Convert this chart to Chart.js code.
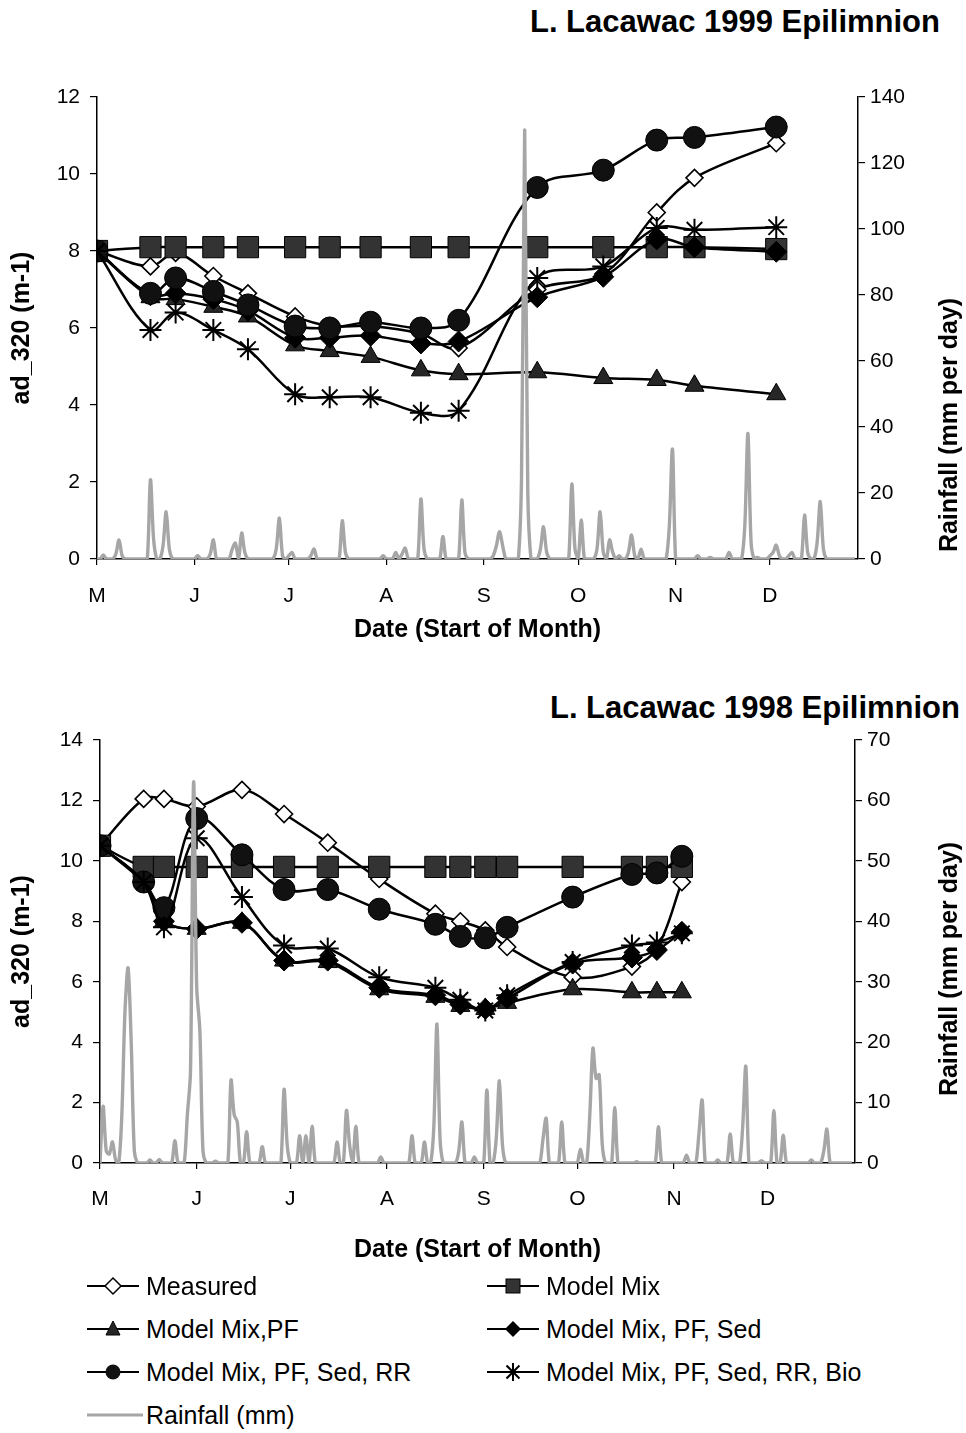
<!DOCTYPE html>
<html>
<head>
<meta charset="utf-8">
<script src="https://cdn.jsdelivr.net/npm/chart.js@4.4.1/dist/chart.umd.min.js"></script>
<style>
  html, body { margin:0; padding:0; background:#fff; }
  #page { position:relative; width:966px; height:1433px; background:#fff; font-family:"Liberation Sans", Arial, sans-serif; color:#000; overflow:hidden; }
  .ctitle { position:absolute; font-weight:bold; font-size:31px; white-space:nowrap; line-height:36px; }
  .cwrap { position:absolute; left:0; width:966px; }
  .leg { position:absolute; display:flex; align-items:center; font-size:25px; white-space:nowrap; }
  .leg svg { margin-right:3px; }
</style>
</head>
<body>
<div id="page">
  <div class="ctitle" style="right:26px; top:4px;">L. Lacawac 1999 Epilimnion</div>
  <div class="cwrap" style="top:0; height:660px;"><canvas id="c1" width="966" height="660"></canvas></div>
  <div class="ctitle" style="right:6px; top:690px;">L. Lacawac 1998 Epilimnion</div>
  <div class="cwrap" style="top:660px; height:612px;"><canvas id="c2" width="966" height="612"></canvas></div>
  <div id="legend"></div>
</div>
<script>
// ---------- DATA ----------
const monthStarts = [0, 31, 61, 92, 123, 153, 184, 214];   // days after May 1
const monthLabels = ["M", "J", "J", "A", "S", "O", "N", "D"];

// 1999 sampling days (days after May 1) and ad_320 values (m-1)
const days1999 = [0, 17, 25, 37, 48, 63, 74, 87, 103, 115, 140, 161, 178, 190, 216];
const measured1999 = [8.0, 7.6, 7.95, 7.35, 6.9, 6.3, 6.05, 6.05, 5.85, 5.48, 7.0, 7.4, 9.0, 9.9, 10.8];
const mix1999 = [8.0, 8.1, 8.1, 8.1, 8.1, 8.1, 8.1, 8.1, 8.1, 8.1, 8.1, 8.1, 8.1, 8.1, 8.05];
const mixPF1999 = [8.0, 6.8, 6.75, 6.55, 6.3, 5.55, 5.4, 5.25, 4.9, 4.8, 4.85, 4.7, 4.65, 4.5, 4.28];
const mixPFSed1999 = [8.0, 6.85, 6.9, 6.75, 6.45, 5.75, 5.75, 5.8, 5.6, 5.65, 6.8, 7.33, 8.3, 8.1, 7.98];
const mixPFSedRR1999 = [8.0, 6.9, 7.3, 6.95, 6.6, 6.05, 6.0, 6.15, 6.0, 6.2, 9.65, 10.1, 10.88, 10.95, 11.22];
const mixPFSedRRBio1999 = [8.0, 5.95, 6.4, 5.95, 5.45, 4.28, 4.2, 4.2, 3.8, 3.85, 7.3, 7.6, 8.6, 8.55, 8.62];
// daily rainfall 1999 (mm per day), day 0 = May 1
const rain1999 = [
  0,0,1.2,0,0,0,1.5,5.8,1,0,
  0,0,0,0,0,0,0,24,6,0,
  0,4,14.3,3,0,0,0,0,0,0,
  0,0,1,0,0,0,1.5,5.8,0,0,
  0,0,0,3,4.8,0,7.9,2,0,0,
  0,0,0,0,0,0,0,3,12.4,1,
  0,1,2,0,0,0,0,0,1,3,
  0,0,0,0,0,0,0,0,11.6,2,
  0,0,0,0,0,0,0,0,0,0,
  0,1,0,0,0,2,0,1.5,3.3,0,
  0,0,0,18.2,3,0,0,0,0,0,
  6.8,0,0,0,0,0,17.9,2,0,0,
  0,0,0,0,0,0,1,4,8.3,4,
  0,0,0,0,0,25,130,20,0,0,
  0,3,9.8,2,0,0,0,0,0,0,
  0,22.7,3,0,11.8,0,0,0,0,3,
  14.3,2,0,5.8,2,0,1,0,0,2,
  7.3,1,0,3,0,0,0,0,0,0,
  0,0,10,33.3,0,0,0,0,0,0,
  0,1,0,0,0,0.5,0,0,0,0,
  0,2,0,0,0,0,10,38,5,0,
  0.5,0,0,0,1,2,4.2,1,0,0,
  1,2,0,0,0,13.3,2,0,0,5,
  17.4,3,0,0,0,0,0,0,0,0,
  0,0
];

// 1998 sampling days and values
const days1998 = [0, 14, 20.5, 31, 45.5, 59, 73, 89.5, 107.5, 115.5, 123.5, 130.5, 151.5, 170.5, 178.5, 186.5];
const measured1998 = [10.5, 12.05, 12.05, 11.8, 12.35, 11.55, 10.6, 9.4, 8.25, 8.0, 7.7, 7.15, 6.15, 6.5, 7.1, 9.3];
const mix1998 = [10.5, 9.8, 9.8, 9.8, 9.8, 9.8, 9.8, 9.8, 9.8, 9.8, 9.8, 9.8, 9.8, 9.8, 9.8, 9.8];
const mixPF1998 = [10.5, 9.3, 8.0, 7.75, 7.95, 6.7, 6.65, 5.75, 5.5, 5.2, 5.1, 5.3, 5.75, 5.65, 5.65, 5.65];
const mixPFSed1998 = [10.5, 9.3, 8.0, 7.75, 7.95, 6.7, 6.7, 5.8, 5.55, 5.25, 5.1, 5.45, 6.6, 6.8, 7.05, 7.65];
const mixPFSedRR1998 = [10.5, 9.3, 8.45, 11.4, 10.2, 9.05, 9.05, 8.4, 7.9, 7.5, 7.45, 7.8, 8.8, 9.55, 9.6, 10.15];
const mixPFSedRRBio1998 = [10.5, 9.3, 7.8, 10.75, 8.8, 7.2, 7.1, 6.15, 5.8, 5.4, 5.05, 5.55, 6.65, 7.2, 7.3, 7.6];
// daily rainfall 1998 (mm per day), day 0 = May 1
const rain1998 = [
  0,9.4,2,1.5,3.5,0.5,0,8,25,32.3,
  20,2,0,0,0,0,0.5,0,0,0.6,
  0,0,0,0,3.7,0,0,0,8,15,
  63,29,22,2,0,0,0,0.3,0,0,
  0,0,13.7,8,6.8,0,0,5.2,0,0,
  0,0,2.7,0,0,0,0,0,0,12.2,
  3,0,0,0,4.5,0,4.5,0,6.1,0,
  0,0,0,0,0,0,3.5,0,0,8.7,
  3,0,6.1,0,0,0,0,0,0,0,
  1,0,0,0,0,0,0,0,0,0,
  4.5,0,0,0,3.5,0,0,6,23,4,
  0,0,0,0,0,2,6.8,0,0,0,
  1,0,0,0,12.1,0,0,4,13.6,3,
  0,0,0,0,0,0,0,0,0,0,
  0,0,4,7.4,0,0,0,0,6.8,0,
  0,0,0,0,2.3,0,0,8,19,14,
  14.6,3,0,0,0,9.2,0,0,0,0,
  0,0,0.2,0,0,0,0,0,0,6,
  0,0,0,0,0,0,0,0,1.3,0,
  0,0,5,10.4,0,0,0,0,0.5,0,
  0,0,4.8,0,0,0,6,16,0,0,
  0,0,0.4,0,0,0,8.7,0,0,4.6,
  0,0,0,0,0,0,0,0,0.5,0,
  0,0,2,5.6,0,0,0,0,0,0,
  0,0
];

const seriesNames = ["Measured", "Model Mix", "Model Mix,PF", "Model Mix, PF, Sed",
  "Model Mix, PF, Sed, RR", "Model Mix, PF, Sed, RR, Bio", "Rainfall (mm)"];

// ---------- RENDER ----------
const FONT = '"Liberation Sans", Arial, sans-serif';
Chart.defaults.font.family = FONT;
Chart.defaults.color = '#000';

const rainColor = '#a6a6a6';
const styles = [
  { pointStyle: 'rectRot', radius: 8.5, bg: '#ffffff', bw: 1.6 },   // Measured
  { pointStyle: 'rect', radius: 15, bg: '#333333', bw: 1 },        // Model Mix
  { pointStyle: 'triangle', radius: 11, bg: '#262626', bw: 1 },   // PF
  { pointStyle: 'rectRot', radius: 10.5, bg: '#000000', bw: 1 },  // Sed
  { pointStyle: 'circle', radius: 11, bg: '#111111', bw: 1 },     // RR
  { pointStyle: 'star', radius: 11, bg: '#000000', bw: 2 }        // Bio
];

const rightTitlePlugin = {
  id: 'rightTitle',
  afterDraw(chart, args, opts) {
    if (!opts || !opts.text) return;
    const ctx = chart.ctx;
    ctx.save();
    ctx.translate(opts.x, opts.y);
    ctx.rotate(-Math.PI / 2);
    ctx.font = 'bold 25px ' + FONT;
    ctx.fillStyle = '#000';
    ctx.textAlign = 'center';
    ctx.textBaseline = 'middle';
    ctx.fillText(opts.text, 0, 0);
    ctx.restore();
  }
};

function makeChart(id, cfg) {
  const seriesVals = cfg.series;
  const datasets = [];
  datasets.push({
    label: seriesNames[6],
    data: cfg.rain.map((v, i) => ({ x: i, y: v })),
    yAxisID: 'y2',
    borderColor: rainColor,
    borderWidth: 3.4,
    pointRadius: 0,
    tension: 0.3,
    order: 1
  });
  for (let s = 0; s < 6; s++) {
    const st = styles[s];
    datasets.push({
      label: seriesNames[s],
      data: cfg.days.map((d, i) => ({ x: d, y: seriesVals[s][i] })),
      yAxisID: 'y',
      borderColor: '#000',
      borderWidth: 2.5,
      tension: 0.35,
      pointStyle: st.pointStyle,
      pointRadius: st.radius,
      pointBackgroundColor: st.bg,
      pointBorderColor: '#000',
      pointBorderWidth: st.bw,
      order: 7 - s
    });
  }
  return new Chart(document.getElementById(id), {
    type: 'line',
    data: { datasets },
    plugins: [rightTitlePlugin],
    options: {
      responsive: false,
      animation: false,
      devicePixelRatio: 1,
      layout: { padding: { top: cfg.padTop, left: 0, right: 0, bottom: 0 } },
      plugins: {
        legend: { display: false },
        tooltip: { enabled: false },
        rightTitle: { text: 'Rainfall (mm per day)', x: 950, y: cfg.rightTitleY }
      },
      scales: {
        x: {
          type: 'linear', position: 'bottom', min: 0, max: 242,
          afterBuildTicks: (sc) => { sc.ticks = monthStarts.map(v => ({ value: v })); },
          afterFit: (sc) => { sc.height = cfg.xHeight; },
          ticks: {
            autoSkip: false, maxRotation: 0, padding: cfg.xTickPad,
            font: { size: 21 }, color: '#000',
            callback: (v) => monthLabels[monthStarts.indexOf(v)]
          },
          grid: { drawOnChartArea: false, drawTicks: true, tickLength: 6, color: '#000', lineWidth: 1.2 },
          border: { display: true, color: '#000', width: 1.5 },
          title: { display: true, text: 'Date (Start of Month)', font: { size: 25, weight: 'bold' }, color: '#000', padding: { top: 0, bottom: cfg.xTitlePad } }
        },
        y: {
          type: 'linear', position: 'left', min: 0, max: cfg.yMax,
          afterFit: (sc) => { sc.width = cfg.leftW; },
          ticks: { stepSize: 2, padding: 10, font: { size: 21 }, color: '#000' },
          grid: { drawOnChartArea: false, drawTicks: true, tickLength: 7, color: '#000', lineWidth: 1.2 },
          border: { display: true, color: '#000', width: 1.5 },
          title: { display: true, text: 'ad_320 (m-1)', font: { size: 25, weight: 'bold' }, color: '#000', padding: { top: 7, bottom: 0 } }
        },
        y2: {
          type: 'linear', position: 'right', min: 0, max: cfg.y2Max,
          afterFit: (sc) => { sc.width = cfg.rightW; },
          ticks: { stepSize: cfg.y2Step, padding: 5, font: { size: 21 }, color: '#000' },
          grid: { drawOnChartArea: false, drawTicks: true, tickLength: 7, color: '#000', lineWidth: 1.2 },
          border: { display: true, color: '#000', width: 1.5 },
          title: { display: false }
        }
      }
    }
  });
}

makeChart('c1', {
  days: days1999,
  series: [measured1999, mix1999, mixPF1999, mixPFSed1999, mixPFSedRR1999, mixPFSedRRBio1999],
  rain: rain1999,
  padTop: 97, xHeight: 101, xTickPad: 19, xTitlePad: 15,
  yMax: 12, y2Max: 140, y2Step: 20, leftW: 97, rightW: 108, rightTitleY: 425
});

makeChart('c2', {
  days: days1998,
  series: [measured1998, mix1998, mixPF1998, mixPFSed1998, mixPFSedRR1998, mixPFSedRRBio1998],
  rain: rain1998,
  padTop: 80, xHeight: 109, xTickPad: 18, xTitlePad: 7,
  yMax: 14, y2Max: 70, y2Step: 10, leftW: 100, rightW: 111, rightTitleY: 309
});

// ---------- HTML LEGEND ----------
function markerSvg(idx) {
  const line = idx === 6
    ? '<line x1="0" y1="14" x2="56" y2="14" stroke="' + rainColor + '" stroke-width="3"/>'
    : '<line x1="0" y1="14" x2="52" y2="14" stroke="#000" stroke-width="2"/>';
  let m = '';
  switch (idx) {
    case 0: m = '<polygon points="26,6 34,14 26,22 18,14" fill="#fff" stroke="#000" stroke-width="1.5"/>'; break;
    case 1: m = '<rect x="19" y="7" width="14" height="14" fill="#333" stroke="#000" stroke-width="1"/>'; break;
    case 2: m = '<polygon points="26,6 33,20 19,20" fill="#262626" stroke="#000" stroke-width="1"/>'; break;
    case 3: m = '<polygon points="26,6 34,14 26,22 18,14" fill="#000"/>'; break;
    case 4: m = '<circle cx="26" cy="14" r="7.5" fill="#111"/>'; break;
    case 5: m = '<g stroke="#000" stroke-width="2"><line x1="26" y1="5" x2="26" y2="23"/><line x1="19.5" y1="7.5" x2="32.5" y2="20.5"/><line x1="32.5" y1="7.5" x2="19.5" y2="20.5"/></g>'; break;
  }
  return '<svg width="56" height="28" viewBox="0 0 56 28">' + line + m + '</svg>';
}
const legPos = [
  [87, 1286], [487, 1286],
  [87, 1329], [487, 1329],
  [87, 1372], [487, 1372],
  [87, 1415]
];
const legendEl = document.getElementById('legend');
seriesNames.forEach((name, i) => {
  const d = document.createElement('div');
  d.className = 'leg';
  d.style.left = legPos[i][0] + 'px';
  d.style.top = (legPos[i][1] - 16) + 'px';
  d.style.height = '32px';
  d.innerHTML = markerSvg(i) + '<span>' + name + '</span>';
  legendEl.appendChild(d);
});
</script>
</body>
</html>
